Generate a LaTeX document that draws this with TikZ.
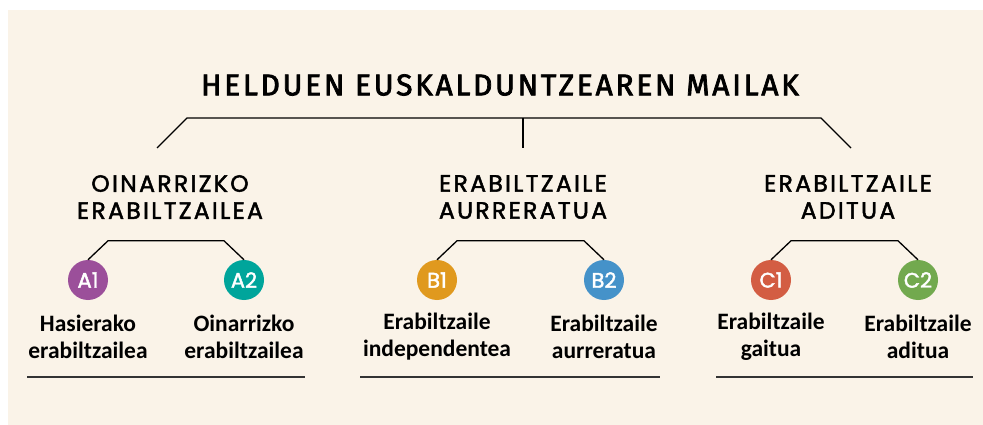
\documentclass[tikz,border=0pt]{standalone}
\usepackage{fontspec}
\setmainfont{Carlito}
\newfontfamily\titlefont[FakeBold=2.5,LetterSpace=9]{Fira Sans}
\newfontfamily\headfont[FakeBold=2,LetterSpace=10]{Poppins}
\newfontfamily\levelfont[FakeBold=2]{Poppins}
\usetikzlibrary{calc}

\definecolor{paper}{HTML}{FAF3E8}
\definecolor{rulegray}{HTML}{333333}
\definecolor{colA1}{HTML}{9B4F9A}
\definecolor{colA2}{HTML}{00A59B}
\definecolor{colB1}{HTML}{E0991E}
\definecolor{colB2}{HTML}{4592C9}
\definecolor{colC1}{HTML}{D35D43}
\definecolor{colC2}{HTML}{72A94E}

\tikzset{
  level/.style={circle, fill=#1, minimum size=40pt, inner sep=0pt, text=white,
    font=\levelfont\fontsize{21}{21}\selectfont},
  group/.style={align=center, font=\headfont\fontsize{23.5}{27}\selectfont},
  label/.style={align=center, font=\bfseries\fontsize{23.5}{27}\selectfont},
  brace/.style={line width=1.3pt, black}
}

\begin{document}
\begin{tikzpicture}[x=1pt,y=-1pt]
      \useasboundingbox (0,0) rectangle (983,425);
      \fill[paper] (8,10) rectangle (983,425);

      % title and top bracket
      \node[font=\titlefont\fontsize{30}{30}\selectfont] (title) at (500,85) {HELDUEN EUSKALDUNTZEAREN MAILAK};
      \coordinate (lt) at (157,148);
      \coordinate (mt) at (523,148);
      \coordinate (rt) at (851,148);
      \draw[brace] (lt) -- (187,118) -- (821,118) -- (rt);
      \draw[brace] (523,118) -- (mt);

      % groups
      \node[group] (gA) at (170,197) {OINARRIZKO\\ERABILTZAILEA};
      \node[group] (gB) at (523,197) {ERABILTZAILE\\AURRERATUA};
      \node[group] (gC) at (848,197) {ERABILTZAILE\\ADITUA};

      % levels
      \node[level=colA1] (a1) at (88,280) {A1};
      \node[level=colA2] (a2) at (244,280) {A2};
      \node[level=colB1] (b1) at (437,280) {B1};
      \node[level=colB2] (b2) at (604,280) {B2};
      \node[level=colC1] (c1) at (771,280) {C1};
      \node[level=colC2] (c2) at (918,280) {C2};

      \foreach \l/\r in {a1/a2,b1/b2,c1/c2}
        \draw[brace] (\l.north) -- ([xshift=20pt,yshift=19pt]\l.north)
          -- ([xshift=-20pt,yshift=19pt]\r.north) -- (\r.north);

      % level names
      \node[label] (ta1) at (88,337) {Hasierako\\erabiltzailea};
      \node[label] (ta2) at (244,337) {Oinarrizko\\erabiltzailea};
      \node[label] (tb1) at (437,337) {Erabiltzaile\\independentea};
      \node[label] (tb2) at (604,337) {Erabiltzaile\\aurreratua};
      \node[label] (tc1) at (771,337) {Erabiltzaile\\gaitua};
      \node[label] (tc2) at (918,337) {Erabiltzaile\\aditua};

      % rules under each group
      \draw[rulegray, line width=2pt] (27,377) -- (305,377);
      \draw[rulegray, line width=2pt] (360,377) -- (660,377);
      \draw[rulegray, line width=2pt] (716,377) -- (973,377);
  \end{tikzpicture}
\end{document}
